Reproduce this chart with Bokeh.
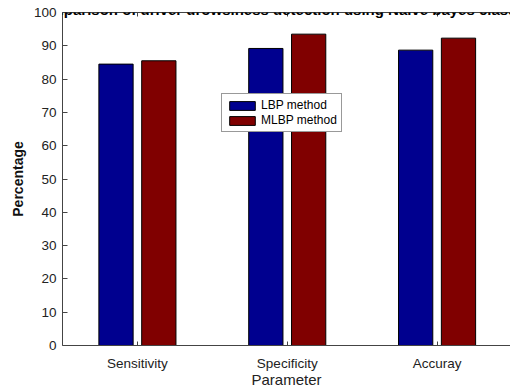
import numpy as np
from bokeh.plotting import figure
from bokeh.models import (Range1d, FixedTicker, LinearAxis, Legend, LegendItem, Label,
                          CustomJSTickFormatter)
from bokeh.embed import file_html
from bokeh.resources import INLINE

categories = ["Sensitivity", "Specificity", "Accuray"]
series_names = ["LBP method", "MLBP method"]
lbp_values = [84.5, 89.2, 88.7]
mlbp_values = [85.5, 93.5, 92.3]
colors = ["#00008F", "#800000"]
y_ticks = list(range(0, 101, 10))
title_text = "Comparison of driver drowsiness detection using Naive bayes classifier"

FONT = "Liberation Sans"

p = figure(width=510, height=390, output_backend="svg", toolbar_location=None,
           x_range=Range1d(0.5, 3.49), y_range=Range1d(0, 100),
           min_border_left=62, min_border_right=0, min_border_top=12, min_border_bottom=40)
p.outline_line_color = None
p.grid.visible = False
p.background_fill_color = "white"
p.border_fill_color = "white"

centers = np.arange(1, len(categories) + 1)
offset = 0.1429
bw = 0.2286
r1 = p.vbar(x=centers - offset, top=lbp_values, width=bw, bottom=0,
            fill_color=colors[0], line_color="black", line_width=1)
r2 = p.vbar(x=centers + offset, top=mlbp_values, width=bw, bottom=0,
            fill_color=colors[1], line_color="black", line_width=1)

# x axis
xa = p.xaxis[0]
xa.ticker = FixedTicker(ticks=list(centers))
xa.major_label_overrides = {int(c): n for c, n in zip(centers, categories)}
xa.major_tick_in = 4
xa.major_tick_out = 0
xa.minor_tick_line_color = None
xa.axis_line_color = "#444444"
xa.major_tick_line_color = "#444444"
xa.major_label_text_font = FONT
xa.major_label_text_font_size = "13.5px"
xa.major_label_text_color = "#222222"
xa.major_label_standoff = 10
xa.axis_label = "Parameter"
xa.axis_label_text_font = FONT
xa.axis_label_text_font_size = "15px"
xa.axis_label_text_font_style = "normal"
xa.axis_label_text_color = "#222222"
xa.axis_label_standoff = -3

ya = p.yaxis[0]
ya.ticker = FixedTicker(ticks=y_ticks)
ya.major_tick_in = 5
ya.major_tick_out = 0
ya.minor_tick_line_color = None
ya.axis_line_color = "#444444"
ya.major_tick_line_color = "#444444"
ya.major_label_text_font = FONT
ya.major_label_text_font_size = "13.5px"
ya.major_label_text_color = "#222222"
ya.major_label_standoff = 6
ya.axis_label = "Percentage"
ya.axis_label_text_font = FONT
ya.axis_label_text_font_size = "14px"
ya.axis_label_text_font_style = "bold"
ya.axis_label_text_color = "#111111"
ya.axis_label_standoff = 5

top = LinearAxis(ticker=FixedTicker(ticks=list(centers)),
                 formatter=CustomJSTickFormatter(code="return ''"),
                 major_tick_in=4, major_tick_out=0, minor_tick_line_color=None,
                 major_label_standoff=0, axis_line_color="#444444",
                 major_tick_line_color="#444444")
p.add_layout(top, "above")

legend = Legend(items=[LegendItem(label=series_names[0], renderers=[r1]),
                       LegendItem(label=series_names[1], renderers=[r2])],
                location=(159, 213), glyph_width=32, glyph_height=11,
                label_height=11, label_standoff=3, padding=4, spacing=1, margin=0,
                label_text_font=FONT, label_text_font_size="12px",
                label_text_color="black", border_line_color="#333333",
                background_fill_color="white", background_fill_alpha=1.0)
p.add_layout(legend, "center")

title = Label(x=2.0, y=101.0, text=title_text, text_align="center", text_baseline="alphabetic",
              text_font=FONT, text_font_size="15px", text_font_style="bold", text_color="black",
              level="overlay")
p.add_layout(title)

open("out.html", "w").write(file_html(p, INLINE))
